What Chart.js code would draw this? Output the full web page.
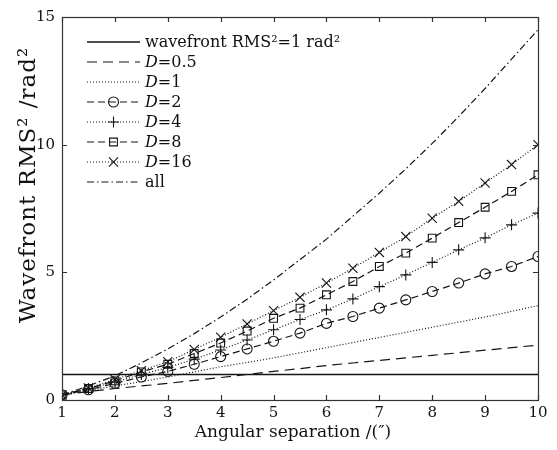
<!DOCTYPE html>
<html>
<head>
<meta charset="utf-8">
<script src="https://cdn.jsdelivr.net/npm/chart.js@4.4.1/dist/chart.umd.min.js"></script>
<style>
  html, body { margin: 0; padding: 0; background: #fff; }
  #wrap { width: 557px; height: 450px; }
</style>
</head>
<body>
<div id="wrap"><canvas id="chart"></canvas></div>
<script>
// angular separation (arcsec)
const separation = [1, 1.5, 2, 2.5, 3, 3.5, 4, 4.5, 5, 5.5, 6, 6.5, 7, 7.5, 8, 8.5, 9, 9.5, 10];

// wavefront RMS^2 (rad^2)
const refLevel = [1, 1];
const refX = [1, 10];
const d05 = [0.2, 0.33, 0.45, 0.55, 0.65, 0.77, 0.88, 1.0, 1.12, 1.23, 1.35, 1.45, 1.55, 1.65, 1.75, 1.85, 1.95, 2.05, 2.15];
const d1 = [0.2, 0.38, 0.55, 0.72, 0.9, 1.1, 1.3, 1.47, 1.65, 1.85, 2.05, 2.25, 2.45, 2.65, 2.85, 3.05, 3.25, 3.47, 3.7];
const d2 = [0.2, 0.4, 0.65, 0.9, 1.12, 1.4, 1.7, 2.0, 2.3, 2.62, 3.0, 3.27, 3.6, 3.92, 4.25, 4.58, 4.94, 5.23, 5.62];
const d4 = [0.2, 0.45, 0.7, 1.0, 1.27, 1.6, 1.96, 2.35, 2.75, 3.15, 3.53, 3.96, 4.44, 4.9, 5.39, 5.88, 6.35, 6.86, 7.32];
const d8 = [0.2, 0.45, 0.75, 1.1, 1.4, 1.82, 2.23, 2.7, 3.2, 3.6, 4.12, 4.64, 5.23, 5.75, 6.34, 6.95, 7.55, 8.17, 8.82];
const d16 = [0.2, 0.47, 0.8, 1.15, 1.5, 1.98, 2.46, 2.98, 3.5, 4.02, 4.58, 5.16, 5.78, 6.4, 7.12, 7.78, 8.5, 9.22, 10.0];
const allLayers = [0.2, 0.55, 0.95, 1.45, 2.0, 2.6, 3.25, 3.95, 4.7, 5.5, 6.3, 7.2, 8.1, 9.05, 10.05, 11.1, 12.2, 13.35, 14.5];

const seriesNames = ['wavefront RMS\u00b2=1 rad\u00b2', 'D=0.5', 'D=1', 'D=2', 'D=4', 'D=8', 'D=16', 'all'];
const xTicks = [1, 2, 3, 4, 5, 6, 7, 8, 9, 10];
const yTicks = [0, 5, 10, 15];
const yTitle = 'Wavefront RMS\u00b2 /rad\u00b2';
const xTitle = 'Angular separation /(\u2033)';

const FONT = '"DejaVu Serif", "Liberation Serif", serif';
const INK = '#151515';

const pts = (xs, ys) => xs.map((x, i) => ({ x: x, y: ys[i] }));

function series(label, data, dash, pointStyle, radius) {
    return {
        label: label,
        data: data,
        borderColor: INK,
        borderWidth: 1.2,
        borderDash: dash,
        pointStyle: pointStyle || 'circle',
        pointRadius: pointStyle ? radius : 0,
        pointBorderColor: INK,
        pointBackgroundColor: 'rgba(0,0,0,0)',
        pointBorderWidth: 1.1,
        tension: 0
    };
}

const datasets = [
    series(seriesNames[0], pts(refX, refLevel), [], null),
    series(seriesNames[1], pts(separation, d05), [10, 6], null),
    series(seriesNames[2], pts(separation, d1), [1, 2], null),
    series(seriesNames[3], pts(separation, d2), [7, 4], 'circle', 5),
    series(seriesNames[4], pts(separation, d4), [1, 2], 'cross', 5.5),
    series(seriesNames[5], pts(separation, d8), [7, 4], 'rect', 5.5),
    series(seriesNames[6], pts(separation, d16), [1, 2], 'crossRot', 6.5),
    series(seriesNames[7], pts(separation, allLayers), [7, 3, 1.5, 3], null)
];
datasets[0].borderWidth = 1.6;

// box around the plot with inward ticks, like the original
const frame = {
    id: 'frame',
    afterDatasetsDraw(chart) {
        const { ctx, chartArea: a, scales: { x, y } } = chart;
        ctx.save();
        ctx.strokeStyle = '#333';
        ctx.lineWidth = 1.2;
        ctx.strokeRect(a.left + 0.5, a.top + 0.5, a.width, a.height);
        ctx.beginPath();
        x.ticks.forEach(t => {
            const px = Math.round(x.getPixelForValue(t.value)) + 0.5;
            ctx.moveTo(px, a.bottom); ctx.lineTo(px, a.bottom - 5);
            ctx.moveTo(px, a.top); ctx.lineTo(px, a.top + 5);
        });
        y.ticks.forEach(t => {
            const py = Math.round(y.getPixelForValue(t.value)) + 0.5;
            ctx.moveTo(a.left, py); ctx.lineTo(a.left + 5, py);
            ctx.moveTo(a.right, py); ctx.lineTo(a.right - 5, py);
        });
        ctx.stroke();
        ctx.restore();
    }
};

// legend and axis titles drawn by hand (italic D, markers on samples)
const legendBox = {
    id: 'legendBox',
    afterDraw(chart) {
        const { ctx, chartArea: a } = chart;
        const x0 = a.left + 25, x1 = a.left + 78, xm = (x0 + x1) / 2;
        ctx.save();
        chart.data.datasets.forEach((ds, i) => {
            const yy = a.top + 25 + i * 20;
            ctx.strokeStyle = ds.borderColor;
            ctx.lineWidth = ds.borderWidth;
            ctx.setLineDash(ds.borderDash);
            ctx.beginPath();
            ctx.moveTo(x0, yy); ctx.lineTo(x1, yy);
            ctx.stroke();
            ctx.setLineDash([]);
            if (ds.pointRadius > 0) {
                ctx.lineWidth = 1.1;
                ctx.fillStyle = 'rgba(0,0,0,0)';
                Chart.helpers.drawPoint(ctx, { pointStyle: ds.pointStyle, radius: ds.pointRadius, borderWidth: 1.1 }, xm, yy);
            }
            ctx.fillStyle = '#111';
            ctx.textBaseline = 'middle';
            let tx = x1 + 5;
            let text = ds.label;
            if (text.startsWith('D=')) {
                ctx.font = 'italic 16px ' + FONT;
                ctx.fillText('D', tx, yy + 1);
                tx += ctx.measureText('D').width;
                text = text.slice(1);
            }
            ctx.font = '16px ' + FONT;
            ctx.fillText(text, tx, yy + 1);
        });

        ctx.fillStyle = '#111';
        ctx.textAlign = 'center';
        ctx.textBaseline = 'middle';
        ctx.font = '17px ' + FONT;
        ctx.fillText(xTitle, 293, 433);

        ctx.translate(29, 185);
        ctx.rotate(-Math.PI / 2);
        ctx.font = '23px ' + FONT;
        ctx.letterSpacing = '1px';
        ctx.fillText(yTitle, 0, 0);
        ctx.restore();
    }
};

new Chart(document.getElementById('chart').getContext('2d'), {
    type: 'line',
    data: { datasets: datasets },
    plugins: [frame, legendBox],
    options: {
        responsive: true,
        maintainAspectRatio: false,
        animation: false,
        layout: { padding: { top: 17, right: 19, left: 0, bottom: 0 } },
        plugins: {
            legend: { display: false },
            tooltip: { enabled: false }
        },
        scales: {
            x: {
                type: 'linear',
                min: 1,
                max: 10,
                afterFit: s => { s.height = 50; },
                afterBuildTicks: s => { s.ticks = xTicks.map(v => ({ value: v })); },
                grid: { display: false, drawTicks: false },
                border: { display: false },
                ticks: { color: '#111', padding: 4, font: { family: FONT, size: 15 }, maxRotation: 0 },
                title: { display: false }
            },
            y: {
                type: 'linear',
                min: 0,
                max: 15,
                afterFit: s => { s.width = 62; },
                afterBuildTicks: s => { s.ticks = yTicks.map(v => ({ value: v })); },
                grid: { display: false, drawTicks: false },
                border: { display: false },
                ticks: { color: '#111', padding: 7, font: { family: FONT, size: 15 } },
                title: { display: false }
            }
        }
    }
});
</script>
</body>
</html>
